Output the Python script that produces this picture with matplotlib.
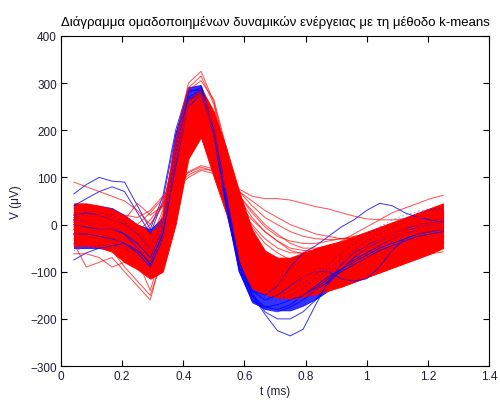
import numpy as np
import matplotlib.pyplot as plt

# sample times (ms), 24 kHz
t_ms = [0.042, 0.083, 0.125, 0.167, 0.208, 0.25, 0.292, 0.333, 0.375, 0.417,
        0.458, 0.5, 0.542, 0.583, 0.625, 0.667, 0.708, 0.75, 0.792, 0.833,
        0.875, 0.917, 0.958, 1.0, 1.042, 1.083, 1.125, 1.167, 1.208, 1.25]

# dense core of each cluster (min / max over the spikes, uV)
red_lo = [-45, -45, -48, -58, -80, -95, -115, -100, 0, 140, 185, 100, 20, -90, -135,
          -148, -155, -155, -152, -148, -140, -132, -122, -112, -102, -92, -82, -72, -62, -50]
red_hi = [45, 45, 40, 33, 18, 0, -15, 0, 120, 265, 290, 240, 160, 70, -10,
          -55, -70, -70, -60, -50, -42, -35, -25, -15, -5, 5, 15, 25, 35, 45]
blue_lo = [-50, -50, -50, -55, -70, -85, -95, -40, 100, 180, 185, 110, 30, -100, -165,
           -178, -182, -182, -172, -158, -140, -120, -102, -88, -74, -62, -52, -46, -42, -40]
blue_hi = [35, 40, 40, 35, 20, 0, -10, 15, 195, 290, 295, 220, 100, -20, -90,
           -130, -145, -145, -138, -120, -95, -70, -50, -30, -15, 0, 10, 20, 25, 30]

# individual blue spikes
blue_a = [65, 85, 100, 92, 90, 40, -10, 60, 200, 290, 295, 210, 60, -80, -150,
          -175, -180, -170, -150, -130, -110, -95, -80, -65, -50, -40, -30, -20, -15, -10]
blue_b = [40, 55, 70, 80, 70, 25, -20, 50, 190, 285, 285, 200, 40, -100, -160,
          -180, -185, -175, -160, -140, -120, -100, -85, -70, -55, -45, -35, -25, -20, -15]
blue_c = [-75, -60, -50, -45, -40, -55, -80, -20, 120, 250, 275, 200, 50, -90, -160,
          -175, -170, -160, -150, -135, -115, -95, -75, -60, -45, -30, -20, -10, -5, 0]
blue_d = [10, 5, 0, -5, -20, -40, -70, -10, 150, 270, 285, 200, 40, -80, -150,
          -190, -225, -236, -222, -170, -120, -85, -60, -45, -30, -20, -10, 0, 5, 10]
blue_e = [0, -5, -10, -10, -20, -50, -85, -20, 140, 265, 280, 190, 30, -100, -145,
          -185, -200, -200, -185, -160, -125, -95, -70, -50, -35, -25, -15, -5, 0, 5]
blue_f = [20, 25, 20, 10, 0, -20, -50, 10, 170, 280, 290, 200, 40, -90, -140,
          -150, -130, -90, -60, -45, -25, -5, 10, 30, 45, 40, 25, 15, 10, 5]
blue_g = [-20, -20, -25, -30, -40, -60, -90, -30, 130, 260, 280, 190, 40, -80, -140,
          -160, -150, -130, -110, -100, -100, -115, -120, -115, -90, -55, -30, -20, -15, -10]
# blue spikes hidden inside the red core
blue_h = [-55, -50, -45, -40, -50, -70, -90, -30, 150, 270, 285, 200, 40, -90, -145,
          -160, -160, -150, -135, -115, -95, -75, -55, -35, -20, -5, 10, 25, 30, 32]
blue_i = [15, 20, 25, 20, 5, -20, -60, 0, 160, 275, 285, 205, 45, -85, -140,
          -155, -150, -140, -125, -105, -85, -60, -40, -20, -5, 10, 20, 28, 33, 35]

# individual red spikes
red_a = [10, 15, 20, 15, 5, -15, -40, 20, 180, 300, 325, 260, 150, 40, -50,
         -100, -120, -120, -110, -100, -85, -70, -55, -45, -35, -25, -15, -10, -5, 0]
red_b = [-10, -5, 0, 0, -10, -30, -60, 0, 160, 290, 315, 255, 140, 30, -60,
         -105, -125, -125, -115, -100, -90, -75, -60, -50, -40, -30, -20, -15, -10, -5]
red_c = [25, 20, 20, 15, 5, -10, -35, 30, 170, 285, 305, 265, 160, 50, -40,
         -90, -110, -115, -110, -95, -80, -65, -50, -40, -30, -20, -10, -5, 0, 5]
red_d = [20, 20, 15, 10, 5, 0, 25, 55, 85, 110, 122, 112, 80, 40, 0,
         -30, -50, -60, -60, -55, -50, -45, -40, -35, -30, -25, -20, -15, -10, -5]
red_e = [0, 5, 5, 0, -5, -15, 10, 45, 80, 105, 118, 115, 90, 55, 15,
         -15, -35, -50, -55, -55, -50, -45, -40, -35, -30, -25, -20, -15, -10, -5]
red_f = [-20, -15, -10, -10, -15, -25, 0, 40, 75, 100, 115, 108, 75, 35, -5,
         -40, -60, -75, -80, -75, -70, -60, -50, -40, -30, -25, -20, -15, -10, -10]
red_g = [35, 30, 30, 25, 20, 15, 30, 60, 90, 112, 125, 118, 95, 70, 50,
         30, 15, 0, -10, -20, -25, -30, -30, -30, -25, -20, -15, -10, -5, 0]
red_h = [10, 15, 15, 10, 0, -20, -50, 10, 150, 240, 250, 200, 110, 75, 60,
         55, 55, 52, 45, 38, 33, 25, 18, 12, 10, 10, 12, 15, 15, 15]
red_i = [0, 0, -5, -5, -10, -30, -55, 0, 140, 230, 240, 190, 90, 60, 30,
         0, -20, -40, -50, -50, -45, -40, -35, -30, -25, -20, -15, -10, -10, -5]
red_j = [5, 5, 0, -5, -15, -35, -65, -10, 130, 220, 240, 180, 70, 40, 10,
         -15, -35, -55, -62, -62, -58, -50, -40, -30, -25, -20, -15, -10, -5, 0]
red_k = [90, 80, 70, 60, 50, 30, 0, 40, 160, 250, 260, 200, 100, 0, -70,
         -110, -125, -120, -110, -95, -80, -65, -50, -40, -30, -20, -10, -5, 0, 5]
red_l = [-40, -90, -80, -70, -100, -130, -160, -60, 60, 200, 250, 210, 110, 10, -70,
         -110, -130, -130, -120, -110, -95, -80, -65, -55, -45, -35, -25, -20, -15, -10]
red_m = [10, 5, 0, 0, 10, 45, 20, 40, 150, 260, 280, 230, 120, 20, -60,
         -100, -115, -115, -105, -95, -80, -65, -55, -45, -35, -25, -15, -10, -5, 0]
red_n = [-62, -62, -70, -90, -80, -75, -100, -40, 100, 230, 265, 220, 120, 20, -60,
         -105, -125, -130, -125, -115, -100, -90, -80, -70, -60, -55, -50, -45, -40, -35]
red_o = [-20, -30, -40, -55, -90, -120, -150, -70, 50, 190, 250, 215, 120, 20, -60,
         -110, -130, -135, -125, -110, -95, -80, -65, -50, -40, -30, -20, -15, -10, -5]
red_p = [5, 10, 10, 5, -5, -25, -50, 10, 160, 260, 275, 220, 120, 20, -60,
         -90, -100, -95, -80, -65, -50, -35, -20, -5, 10, 25, 35, 45, 55, 62]
red_q = [-10, -10, -15, -20, -30, -50, -80, -30, 110, 240, 275, 225, 100, -20, -100,
         -140, -155, -155, -150, -140, -130, -120, -110, -100, -90, -80, -72, -66, -62, -58]
red_r = [15, 20, 20, 15, 5, -10, -35, 20, 160, 250, 260, 210, 120, 60, 25,
         -5, -25, -35, -40, -40, -35, -30, -25, -20, -15, -10, -5, 0, 5, 10]
red_s = [-5, 0, 0, -5, -15, -35, -60, 0, 140, 245, 265, 215, 130, 70, 40,
         15, 0, -15, -25, -30, -32, -30, -28, -22, -15, -10, -5, 0, 5, 10]
red_t = [-30, -25, -20, -25, -45, -75, -140, -50, 80, 215, 255, 215, 110, 0, -80,
         -125, -150, -160, -155, -145, -130, -115, -100, -85, -70, -60, -50, -40, -35, -30]

blue_spikes = [blue_a, blue_b, blue_c, blue_d, blue_e, blue_f, blue_g]
blue_inside = [blue_h, blue_i]
red_spikes = [red_a, red_b, red_c, red_d, red_e, red_f, red_g, red_h, red_i, red_j,
              red_k, red_l, red_m, red_n, red_o, red_p, red_q, red_r, red_s, red_t]

plt.rcParams['font.family'] = ['Liberation Sans', 'DejaVu Sans']
txt = '#1f1f3a'

fig = plt.figure(figsize=(5, 4.06), dpi=100)
ax = fig.add_axes([0.122, 0.096, 0.856, 0.813])

# cluster 1 (blue) under cluster 2 (red)
ax.fill_between(t_ms, blue_lo, blue_hi, color='b', lw=0.6, alpha=0.8)
for s in blue_spikes:
    ax.plot(t_ms, s, color='b', lw=0.7, alpha=0.8)
for s in red_spikes:
    ax.plot(t_ms, s, color='r', lw=0.7, alpha=0.7)
ax.fill_between(t_ms, red_lo, red_hi, color='r', lw=0.6)
for s in blue_inside:
    ax.plot(t_ms, s, color='b', lw=0.6, alpha=0.45, ls=(0, (2, 3)))

ax.set_xlim(0, 1.4)
ax.set_ylim(-300, 400)
ax.set_xticks(np.arange(0, 1.41, 0.2))
ax.set_xticklabels(['0', '0.2', '0.4', '0.6', '0.8', '1', '1.2', '1.4'])
ax.set_yticks(range(-300, 401, 100))
ax.tick_params(direction='in', length=4, width=0.8, top=True, right=True,
               labelsize=8.5, labelcolor=txt, pad=3)
for sp in ax.spines.values():
    sp.set_linewidth(0.8)

ax.set_xlabel('t (ms)', fontsize=8.5, color=txt, labelpad=2)
ax.set_ylabel('V (μV)', fontsize=8.5, color=txt, labelpad=6)
ax.set_title('Διάγραμμα ομαδοποιημένων δυναμικών ενέργειας με τη μέθοδο k-means',
             fontsize=9.5, color='black', pad=8)

fig.savefig('out.png', dpi=100)
